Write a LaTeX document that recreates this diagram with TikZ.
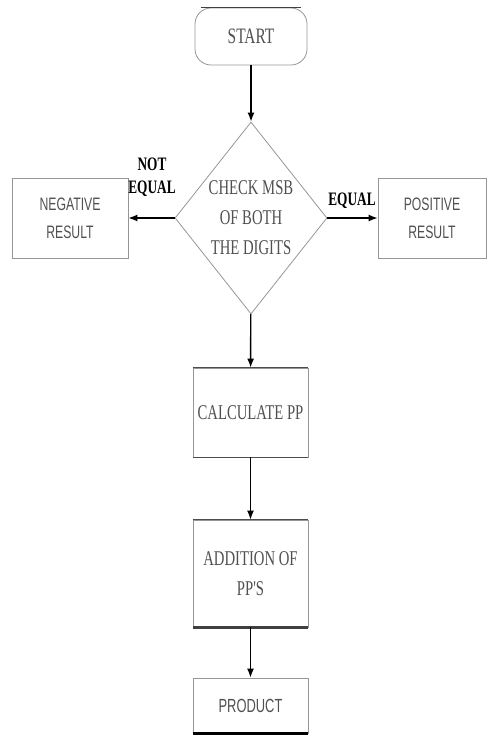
\documentclass[tikz,border=0pt]{standalone}
\usepackage{fontspec}
\usetikzlibrary{shapes.geometric,arrows.meta}
\newfontfamily\condserif[FakeStretch=0.7]{Liberation Serif}
\newfontfamily\condsans[FakeStretch=0.68]{Liberation Sans}
\definecolor{txtgray}{RGB}{80,80,80}
\definecolor{linegray}{RGB}{150,150,150}
\begin{document}
\begin{tikzpicture}[x=1pt,y=-1pt,
  boxline/.style={draw=linegray,line width=0.8pt},
  serifbox/.style={boxline,rectangle,minimum width=115pt,inner sep=0pt,align=center,text=txtgray,font=\condserif\fontsize{21}{30}\selectfont},
  sansbox/.style={boxline,rectangle,inner sep=0pt,align=center,text=txtgray,font=\condsans\fontsize{18}{28}\selectfont},
  flow/.style={draw=black,line width=1.4pt,-{Latex[length=9pt,width=7pt]}},
  lbl/.style={inner sep=0pt,text=black,font=\condserif\bfseries\fontsize{19}{23}\selectfont,align=center}]
\useasboundingbox (0,0) rectangle (487,735);
% start
\node[boxline,rounded corners=16pt,minimum width=112pt,minimum height=57pt,inner sep=0pt,text=txtgray,font=\condserif\fontsize{22}{22}\selectfont] (start) at (251,36.5) {START};
\draw[line width=1.4pt,draw=black!75] ([xshift=6pt]start.north west) -- ([xshift=-6pt]start.north east);
% decision
\node[boxline,diamond,aspect=0.79,minimum width=152pt,minimum height=192pt,inner sep=0pt,align=center,text=txtgray,font=\condserif\fontsize{21}{30}\selectfont] (check) at (251,218) {CHECK MSB\\OF BOTH\\THE DIGITS};
% side boxes
\node[sansbox,minimum width=116pt,minimum height=80pt] (neg) at (70,218) {NEGATIVE\\RESULT};
\node[sansbox,minimum width=108pt,minimum height=80pt] (pos) at (432,218) {POSITIVE\\RESULT};
% main boxes
\node[serifbox,minimum height=89pt] (calc) at (250.5,412.5) {CALCULATE PP};
\node[serifbox,minimum height=107pt] (add) at (250.5,573.5) {ADDITION OF\\PP'S};
\node[sansbox,minimum width=115pt,minimum height=55pt,font=\condsans\fontsize{19}{22}\selectfont] (prod) at (250.5,705.5) {PRODUCT};
% darker edges
\draw[line width=1pt,draw=black!70] (calc.north west) -- (calc.north east);
\draw[line width=1pt,draw=black!70] (calc.south west) -- (calc.south east);
\draw[line width=1pt,draw=black!70] (add.north west) -- (add.north east);
\draw[line width=2.5pt,draw=black!75] (add.south west) -- (add.south east);
\draw[line width=3pt,draw=black] (prod.south west) -- (prod.south east);
\draw[draw=white,line width=1pt] (prod.north west) -- (prod.north east);
% connectors
\draw[flow] (start) -- (check);
\draw[flow] (check.west) -- (neg.east);
\draw[flow] (check.east) -- (pos.west);
\draw[flow] (check) -- (calc);
\draw[flow] (calc) -- (add);
\draw[flow] (add) -- (prod);
% labels
\node[lbl] (ne) at (152,177) {NOT\\EQUAL};
\node[lbl] (eq) at (352,201) {EQUAL};
\end{tikzpicture}
\end{document}
